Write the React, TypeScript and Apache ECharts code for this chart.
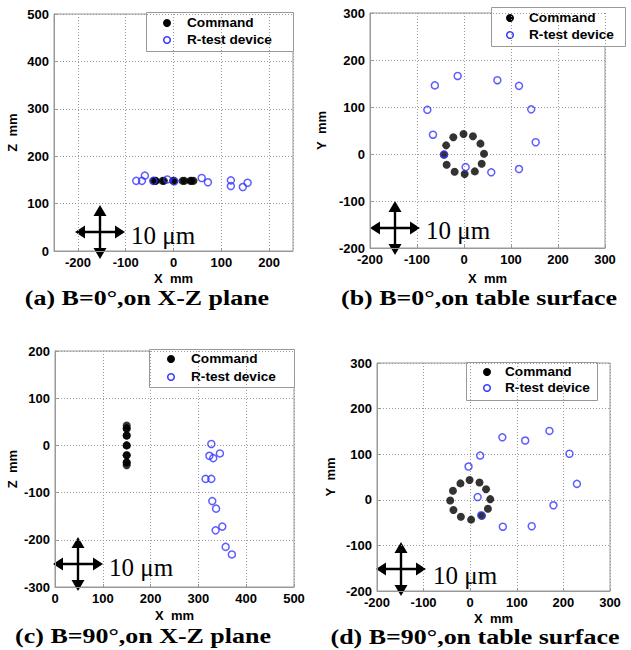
import React, { useEffect, useRef } from 'react';
import * as echarts from 'echarts';

// (a) B=0°, X-Z plane
const aCmdX = [-1, 19, 35, 42, 38, 23, 1, -20, -37, -42, -38, -23];
const aCmdZ = [148, 148, 148, 148, 148, 148, 148, 148, 148, 148, 148, 148];
const aRtX = [-78, -66, -60, -42, -13, 2, 59, 72, 120, 120, 145, 155];
const aRtZ = [148, 148, 159, 148, 151, 147, 154, 145, 149, 137, 135, 144];

// (b) B=0°, table surface
const bCmdX = [-1, 19, 35, 42.5, 37.6, 23, 1.4, -20, -37, -42.5, -38, -22.7];
const bCmdY = [42.5, 37.6, 22, 0.7, -20.6, -37, -42.5, -37.6, -22.7, -1.4, 18.4, 35.5];
const bRtX = [-62, -13.5, 71, 117, 143, 152.5, 117, 58, 3.5, -42.5, -66, -78];
const bRtY = [146, 166, 157, 145, 95, 25, -32, -39, -28, -1, 41, 94];

// (c) B=90°, X-Z plane
const cCmdX = [150, 150, 150, 150, 150, 150, 150, 150, 150, 150, 150, 150];
const cCmdZ = [42, 36, 21, 0, -21, -36, -42, -36, -21, 0, 21, 36];
const cRtX = [327, 323, 331, 345, 315, 327, 329, 337, 350, 336, 357, 370];
const cRtZ = [3, -22, -27, -17, -71, -71, -118, -134, -172, -180, -215, -231];

// (d) B=90°, table surface
const dCmdX = [-1.4, 20, 34, 43, 38, 25, 2, -20, -36, -43, -37, -21];
const dCmdY = [43.5, 38, 23, 1.4, -19.6, -35, -43.5, -37, -22.5, -1.4, 20, 36];
const dRtX = [-3.6, 21.4, 69, 118, 170, 213, 229, 178.6, 132, 70, 23.6, 16];
const dRtY = [73, 97, 137, 130, 151, 101, 35, -12, -58, -59, -34, 6];

const captions = [
  '(a) B=0°,on X-Z plane',
  '(b) B=0°,on table surface',
  '(c) B=90°,on X-Z plane',
  '(d) B=90°,on table surface',
];
const seriesNames = ['Command', 'R-test device'];
const scaleLabel = '10 μm';

const SANS = '"Liberation Sans", Arial, sans-serif';
const SERIF = '"Liberation Serif", "Times New Roman", serif';
const BLUE = '#3535ff';

const zip = (xs: number[], ys: number[]) => xs.map((x, i) => [x, ys[i]]);

export default function App() {
  const ref = useRef<HTMLDivElement>(null);
  useEffect(() => {
    document.body.style.margin = '0';
    const chart = echarts.init(ref.current!, null, { renderer: 'svg' });

    const grids = [
      { left: 54, top: 14, width: 239, height: 237 },
      { left: 370, top: 13, width: 235, height: 235 },
      { left: 55, top: 351, width: 239, height: 236 },
      { left: 377, top: 363, width: 233, height: 228 },
    ].map((g) => ({ ...g, show: true, borderColor: '#999', borderWidth: 1, backgroundColor: '#fff' }));

    const labelStyle = { color: '#000', fontWeight: 'bold', fontSize: 13, fontFamily: SANS };
    const axisBase = (gridIndex: number, min: number, max: number, name: string, nameGap: number, extra: any = {}) => ({
      type: 'value',
      gridIndex,
      min,
      max,
      name,
      nameLocation: 'middle',
      nameGap,
      nameTextStyle: labelStyle,
      axisLine: { show: true, onZero: false, lineStyle: { color: '#999' } },
      axisTick: { show: true, inside: true, length: 3, lineStyle: { color: '#999' } },
      axisLabel: { ...labelStyle, margin: 5 },
      splitLine: { show: true, lineStyle: { type: [1, 2], color: '#9a9a9a', width: 1 } },
      ...extra,
    });

    const xAxes = [
      axisBase(0, -250, 250, 'X\u00a0\u00a0mm', 21, { splitNumber: 5, axisLabel: { ...labelStyle, margin: 5, showMinLabel: false, showMaxLabel: false } }),
      axisBase(1, -200, 300, 'X\u00a0\u00a0mm', 24, { interval: 100 }),
      axisBase(2, 0, 500, 'X\u00a0\u00a0mm', 22, { interval: 100 }),
      axisBase(3, -200, 300, 'X\u00a0\u00a0mm', 21, { interval: 100 }),
    ];
    const yAxes = [
      axisBase(0, 0, 500, 'Z\u00a0\u00a0mm', 35, { interval: 100 }),
      axisBase(1, -200, 300, 'Y\u00a0\u00a0mm', 42, { interval: 100 }),
      axisBase(2, -300, 200, 'Z\u00a0\u00a0mm', 36, { interval: 100 }),
      axisBase(3, -200, 300, 'Y\u00a0\u00a0mm', 40, { interval: 100 }),
    ];

    const panelData = [
      [zip(aCmdX, aCmdZ), zip(aRtX, aRtZ)],
      [zip(bCmdX, bCmdY), zip(bRtX, bRtY)],
      [zip(cCmdX, cCmdZ), zip(cRtX, cRtZ)],
      [zip(dCmdX, dCmdY), zip(dRtX, dRtY)],
    ];
    const cmdStyle = { color: '#000' };
    const rtStyle = { color: 'rgba(255,255,255,0)', borderColor: BLUE, borderWidth: 1.5 };
    const series: any[] = [];
    panelData.forEach(([cmd, rt], i) => {
      series.push({
        type: 'scatter',
        name: seriesNames[0],
        xAxisIndex: i,
        yAxisIndex: i,
        data: cmd,
        symbol: 'circle',
        symbolSize: 8,
        itemStyle: cmdStyle,
        z: 2,
      });
      series.push({
        type: 'scatter',
        name: seriesNames[1],
        xAxisIndex: i,
        yAxisIndex: i,
        data: rt,
        symbol: 'circle',
        symbolSize: 7,
        itemStyle: rtStyle,
        z: 3,
      });
    });

    const graphic: any[] = [];

    // legend boxes (drawn as graphics for exact placement)
    const legendBoxes = [
      { l: 146, t: 12, r: 293, b: 51, dx: 167, tx: 187, y1: 23, y2: 40 },
      { l: 491, t: 7, r: 625, b: 46, dx: 510, tx: 529, y1: 18, y2: 35 },
      { l: 149, t: 349, r: 294, b: 387, dx: 171, tx: 191, y1: 359, y2: 377 },
      { l: 466, t: 362, r: 597, b: 400, dx: 487, tx: 505, y1: 372, y2: 388 },
    ];
    legendBoxes.forEach((L) => {
      graphic.push({
        type: 'group',
        z: 50,
        children: [
          {
            type: 'rect',
            shape: { x: L.l + 0.5, y: L.t + 0.5, width: L.r - L.l, height: L.b - L.t },
            style: { fill: '#fff', stroke: '#999', lineWidth: 1 },
          },
          { type: 'circle', shape: { cx: L.dx, cy: L.y1, r: 4 }, style: { fill: '#000' } },
          { type: 'circle', shape: { cx: L.dx, cy: L.y2, r: 3.3 }, style: { fill: 'none', stroke: BLUE, lineWidth: 1.5 } },
          {
            type: 'text',
            x: L.tx,
            y: L.y1,
            scaleX: 1.05,
            style: { text: seriesNames[0], fill: '#000', font: `bold 13px ${SANS}`, textAlign: 'left', textVerticalAlign: 'middle' },
          },
          {
            type: 'text',
            x: L.tx,
            y: L.y2,
            scaleX: 1.05,
            style: { text: seriesNames[1], fill: '#000', font: `bold 13px ${SANS}`, textAlign: 'left', textVerticalAlign: 'middle' },
          },
        ],
      });
    });

    const arrows = [
      { cx: 100, cy: 232, tx: 131, ty: 235 },
      { cx: 395, cy: 228, tx: 426, ty: 230 },
      { cx: 78, cy: 564, tx: 109, ty: 567 },
      { cx: 401, cy: 569, tx: 433, ty: 575 },
    ];
    arrows.forEach((a) => {
      const fill = { fill: '#000' };
      graphic.push({
        type: 'group',
        x: a.cx,
        y: a.cy,
        z: 100,
        children: [
          { type: 'line', shape: { x1: -18, y1: 0, x2: 18, y2: 0 }, style: { stroke: '#000', lineWidth: 2.4 } },
          { type: 'line', shape: { x1: 0, y1: -19, x2: 0, y2: 19 }, style: { stroke: '#000', lineWidth: 2.4 } },
          { type: 'polygon', shape: { points: [[25, 0], [15, -6.5], [15, 6.5]] }, style: fill },
          { type: 'polygon', shape: { points: [[-25, 0], [-15, -6.5], [-15, 6.5]] }, style: fill },
          { type: 'polygon', shape: { points: [[0, -27], [-6.5, -16], [6.5, -16]] }, style: fill },
          { type: 'polygon', shape: { points: [[0, 27], [-6.5, 16], [6.5, 16]] }, style: fill },
        ],
      });
      graphic.push({
        type: 'text',
        x: a.tx,
        y: a.ty,
        z: 100,
        style: { text: scaleLabel, fill: '#000', font: `25px ${SERIF}`, textAlign: 'left', textVerticalAlign: 'middle' },
      });
    });
    const capPos = [
      { x: 147, y: 298 },
      { x: 479, y: 298 },
      { x: 143, y: 636 },
      { x: 475, y: 637 },
    ];
    capPos.forEach((c, i) => {
      graphic.push({
        type: 'text',
        x: c.x,
        y: c.y,
        z: 100,
        scaleX: 1.18,
        style: {
          text: captions[i],
          fill: '#000',
          font: `bold 22px ${SERIF}`,
          textAlign: 'center',
          textVerticalAlign: 'middle',
        },
      });
    });

    chart.setOption({
      animation: false,
      backgroundColor: '#fff',
      grid: grids,
      xAxis: xAxes,
      yAxis: yAxes,
      series,
      graphic,
    });
    return () => chart.dispose();
  }, []);
  return <div ref={ref} style={{ width: 631, height: 650 }} />;
}
